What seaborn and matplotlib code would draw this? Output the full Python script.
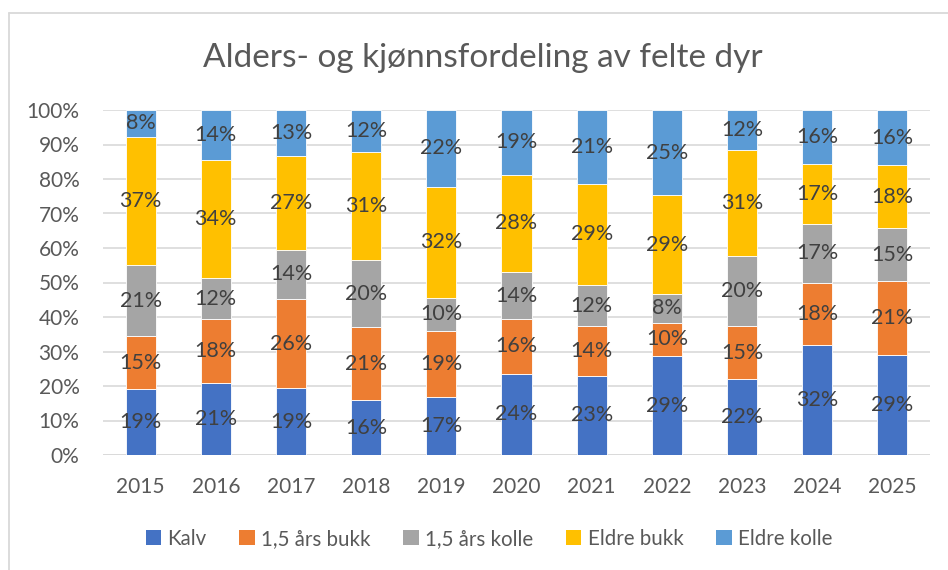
import numpy as np
import pandas as pd
import matplotlib
matplotlib.use("Agg")
import matplotlib.pyplot as plt
from matplotlib.lines import Line2D
from matplotlib.patches import Patch
from matplotlib.ticker import PercentFormatter
import seaborn as sns

# data (andel av felte dyr per aar, i prosent)
aar = ["2015", "2016", "2017", "2018", "2019", "2020", "2021", "2022", "2023", "2024", "2025"]
kalv = [19.0, 21.0, 19.3, 15.9, 16.7, 23.6, 23.0, 28.6, 22.0, 31.9, 29.1]
bukk_15 = [15.4, 18.4, 26.0, 21.1, 19.3, 15.7, 14.3, 9.8, 15.4, 17.9, 21.4]
kolle_15 = [20.6, 11.8, 14.2, 19.6, 9.6, 13.8, 12.0, 8.3, 20.2, 17.3, 15.2]
eldre_bukk = [37.3, 34.4, 27.3, 31.1, 32.1, 28.2, 29.3, 28.6, 30.8, 17.2, 18.3]
eldre_kolle = [7.7, 14.4, 13.2, 12.3, 22.3, 18.7, 21.4, 24.7, 11.6, 15.7, 16.0]

serier = ["Kalv", "1,5 års bukk", "1,5 års kolle", "Eldre bukk", "Eldre kolle"]
farger = ["#4472C4", "#ED7D31", "#A5A5A5", "#FFC000", "#5B9BD5"]

df = pd.DataFrame({"Aar": aar, "Kalv": kalv, "1,5 års bukk": bukk_15,
                   "1,5 års kolle": kolle_15, "Eldre bukk": eldre_bukk,
                   "Eldre kolle": eldre_kolle})

sns.set_theme(style="white")
plt.rcParams['font.family'] = ['Lato', 'DejaVu Sans']

fig = plt.figure(figsize=(9.48, 5.7), dpi=100)
ax = fig.add_axes([103/948, 1-455/570, (930-103)/948, 345/570])

bunn = np.zeros(len(aar))
for navn, farge in zip(serier, farger):
    verdier = df[navn].values / 100
    sns.barplot(x=df["Aar"], y=verdier, bottom=bunn, color=farge, width=0.4,
                ax=ax, saturation=1, edgecolor="white", linewidth=0.6)
    cont = ax.containers[-1]
    ax.bar_label(cont, labels=[f"{round(v * 100)}%" for v in verdier], label_type="center",
                 fontsize=15.5, color="#404040")
    bunn = bunn + verdier

ax.set_ylim(0, 1)
ax.set_yticks(np.arange(0, 1.01, 0.1))
ax.yaxis.set_major_formatter(PercentFormatter(1.0, decimals=0))
ax.set_xlabel("")
ax.set_ylabel("")
ax.grid(axis="y", color="#D9D9D9", linewidth=1.2)
ax.set_axisbelow(True)
for s in ax.spines.values():
    s.set_visible(False)
ax.axhline(0, color="#D9D9D9", linewidth=1.2, zorder=0.5)
ax.tick_params(axis="both", length=0, labelsize=15, colors="#595959")
ax.tick_params(axis="x", pad=16)
ax.tick_params(axis="y", pad=17)

fig.text(483/948, 1-58/570, "Alders- og kjønnsfordeling av felte dyr",
         ha="center", va="center", fontsize=24, color="#595959")

handles = [Patch(facecolor=f, edgecolor="none") for f in farger]
leg = fig.legend(handles, serier, loc="center", bbox_to_anchor=(489/948, 1-539/570),
                 ncol=5, frameon=False, fontsize=14.8, handlelength=0.75, handleheight=0.75,
                 handletextpad=0.3, columnspacing=1.6)
for t in leg.get_texts():
    t.set_color("#595959")

# ramme rundt diagrammet
fig.add_artist(Line2D([8.5/948, 8.5/948], [0, 1-12.5/570], transform=fig.transFigure,
                      color="#D9D9D9", linewidth=1.3))
fig.add_artist(Line2D([8.5/948, 1], [1-12.5/570, 1-12.5/570], transform=fig.transFigure,
                      color="#D9D9D9", linewidth=1.3))

fig.savefig("out.png", dpi=100)
